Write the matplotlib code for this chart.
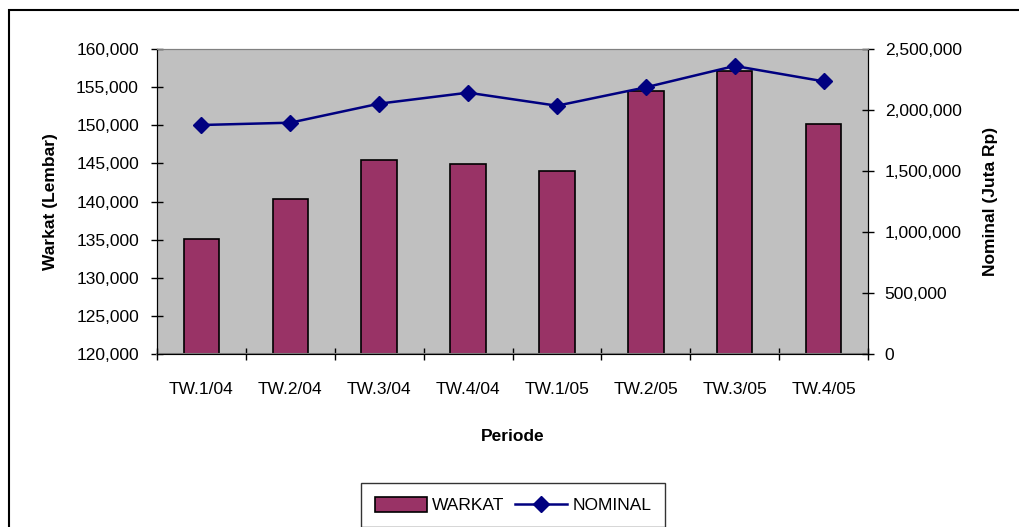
import matplotlib
matplotlib.use('Agg')
import matplotlib.pyplot as plt
import matplotlib.ticker as mticker
from matplotlib.patches import Rectangle
import numpy as np

plt.rcParams['font.family'] = ['Liberation Sans Narrow', 'Liberation Sans', 'DejaVu Sans']

periode = ['TW.1/04', 'TW.2/04', 'TW.3/04', 'TW.4/04', 'TW.1/05', 'TW.2/05', 'TW.3/05', 'TW.4/05']
warkat = [135100, 140300, 145450, 144950, 143950, 154550, 157150, 150100]
nominal = [1877000, 1896000, 2052000, 2142000, 2035000, 2186000, 2361000, 2235000]

fs = 12.5

fig = plt.figure(figsize=(10.2, 5.27), dpi=100)
# outer chart frame (excel style), runs off the right/bottom edge
top = 1 - 10/527
fig.patches.append(Rectangle((9/1020, -0.1), 1.2, top + 0.1,
                             transform=fig.transFigure, fill=False,
                             edgecolor='black', linewidth=1.5))

ax = fig.add_axes([157/1020, 1 - 354/527, (868-157)/1020, (354-49)/527])
ax.set_facecolor('#C0C0C0')
x = np.arange(len(periode))
ax.bar(x, warkat, width=0.4, color='#993366', edgecolor='black', linewidth=1.2,
       label='WARKAT', zorder=2)
ax.set_ylim(120000, 160000)
ax.set_xlim(-0.5, len(periode) - 0.5)
ax.yaxis.set_major_locator(mticker.MultipleLocator(5000))
ax.yaxis.set_major_formatter(mticker.StrMethodFormatter('{x:,.0f}'))
ax.set_xticks(x)
ax.set_xticklabels(periode)
ax.set_xticks(np.arange(-0.5, len(periode)), minor=True)
ax.tick_params(axis='x', which='major', length=0, pad=20, labelsize=fs)
ax.tick_params(axis='x', which='minor', direction='inout', length=9, width=1)
ax.tick_params(axis='y', direction='inout', length=8, width=1, pad=9, labelsize=fs)
ax.set_ylabel('Warkat (Lembar)', fontsize=fs, fontweight='bold', labelpad=13)
ax.set_xlabel('Periode', fontsize=fs, fontweight='bold', labelpad=23)
ax.spines['top'].set_color('#808080')
ax.spines['bottom'].set_color('#808080')
ax.spines['bottom'].set_linewidth(1.5)

ax2 = ax.twinx()
ax2.plot(x, nominal, color='#000080', marker='D', markersize=8, linewidth=1.8,
         label='NOMINAL', zorder=3)
ax2.set_ylim(0, 2500000)
ax2.yaxis.set_major_locator(mticker.MultipleLocator(500000))
ax2.yaxis.set_major_formatter(mticker.StrMethodFormatter('{x:,.0f}'))
ax2.tick_params(axis='y', direction='inout', length=8, width=1, pad=8, labelsize=fs)
ax2.set_ylabel('Nominal (Juta Rp)', fontsize=fs, fontweight='bold', labelpad=15)
ax2.spines['top'].set_color('#808080')

h1, l1 = ax.get_legend_handles_labels()
h2, l2 = ax2.get_legend_handles_labels()
leg = fig.legend(h1 + h2, l1 + l2, loc='center', bbox_to_anchor=(513/1020, 1 - 505/527),
                 ncol=2, fontsize=fs, frameon=True, fancybox=False,
                 handlelength=3.0, handleheight=1.0, handletextpad=0.3,
                 columnspacing=0.6, borderpad=0.8, borderaxespad=0)
leg.get_frame().set_edgecolor('black')
leg.get_frame().set_linewidth(1)

fig.savefig('out.png', dpi=100)
